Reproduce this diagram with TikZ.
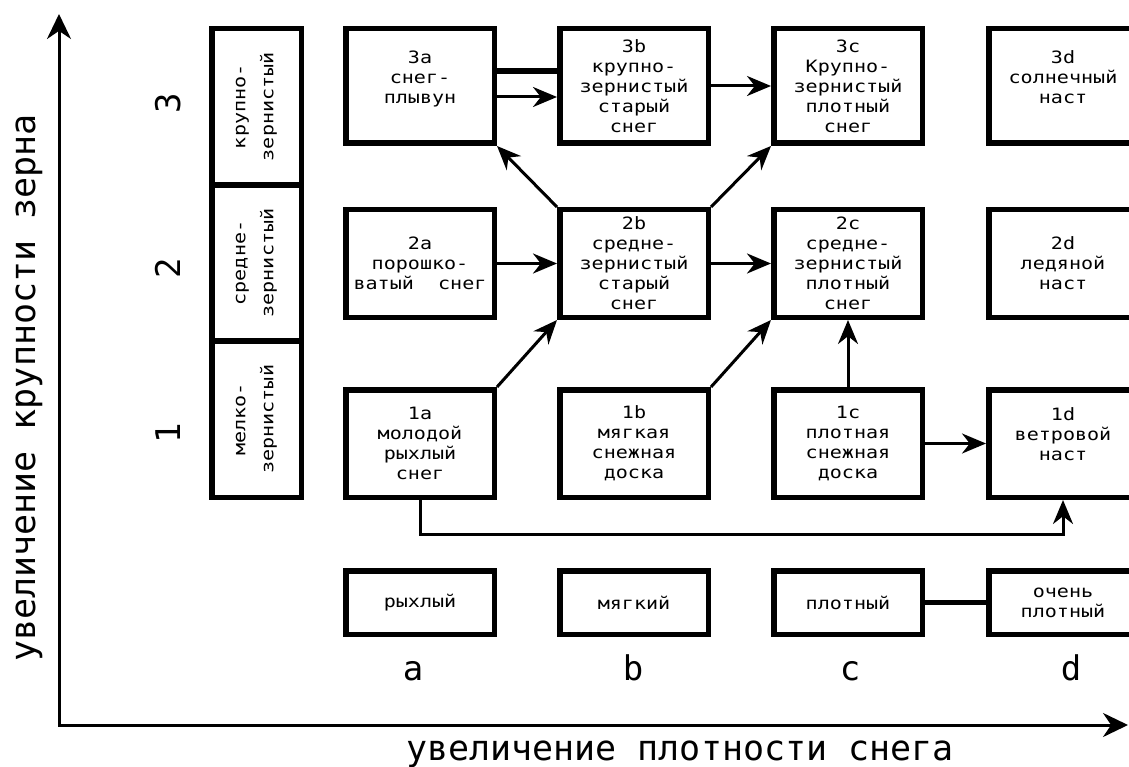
\documentclass[tikz,border=0pt]{standalone}
\usepackage{fontspec}
\setmainfont{DejaVu Sans Mono}
\newfontfamily\boxfont[FakeStretch=1.18]{DejaVu Sans Mono}
\usetikzlibrary{arrows.meta}
\newcommand{\liftup}{\rule[-18pt]{0pt}{1pt}}

\begin{document}
\begin{tikzpicture}[x=1pt,y=-1pt,>={Stealth[length=24pt,width=20pt]},
	cell/.style={draw,rectangle,line width=5.5pt,minimum width=148.5pt,minimum height=107.5pt,align=center,font=\boxfont\fontsize{17}{20}\selectfont},
	grain/.style={draw,rectangle,line width=5.5pt,rotate=90,minimum width=156.2pt,minimum height=89.5pt,align=center,font=\boxfont\fontsize{17}{28}\selectfont},
	conn/.style={line width=3pt,->},
	heavy/.style={line width=5.5pt},
	axis/.style={line width=3pt,{Stealth[length=25pt,width=24pt]}-{Stealth[length=25pt,width=24pt]}},
	big/.style={anchor=base,font=\fontsize{34}{40}\selectfont}]

	\useasboundingbox (0,0) rectangle (1129,767);
	\clip (0,0) rectangle (1129,767);

	% rows of snow types
	\node[cell,minimum height=114.5pt] (A3) at (420,86) {3a\\снег-\\плывун\liftup};
	\node[cell,minimum height=114.5pt] (B3) at (634,86) {3b\\крупно-\\зернистый\\старый\\снег};
	\node[cell,minimum height=114.5pt] (C3) at (848,86) {3c\\Крупно-\\зернистый\\плотный\\снег};
	\node[cell,minimum height=114.5pt] (D3) at (1063,86) {3d\\солнечный\\наст\liftup};

	\node[cell] (A2) at (420,263.5) {2a\\порошко-\\ватый~~снег};
	\node[cell] (B2) at (634,263.5) {2b\\средне-\\зернистый\\старый\\снег};
	\node[cell] (C2) at (848,263.5) {2c\\средне-\\зернистый\\плотный\\снег};
	\node[cell] (D2) at (1063,263.5) {2d\\ледяной\\наст};

	\node[cell] (A1) at (420,443.5) {1a\\молодой\\рыхлый\\снег};
	\node[cell] (B1) at (634,443.5) {1b\\мягкая\\снежная\\доска};
	\node[cell] (C1) at (848,443.5) {1c\\плотная\\снежная\\доска};
	\node[cell] (D1) at (1063,443.5) {1d\\ветровой\\наст\liftup};

	\node[cell,minimum height=63.5pt] (Ab) at (420,602.5) {рыхлый};
	\node[cell,minimum height=63.5pt] (Bb) at (634,602.5) {мягкий};
	\node[cell,minimum height=63.5pt] (Cb) at (848,602.5) {плотный};
	\node[cell,minimum height=63.5pt] (Db) at (1063,602.5) {очень\\плотный};

	% grain column
	\node[grain] (G3) at (256.5,106.8) {крупно-\\зернистый};
	\node[grain] (G2) at (256.5,263) {средне-\\зернистый};
	\node[grain] (G1) at (256.5,419.2) {мелко-\\зернистый};

	\node[big,rotate=90] (N3) at (180,103) {3};
	\node[big,rotate=90] (N2) at (180,268) {2};
	\node[big,rotate=90] (N1) at (180,433) {1};

	\node[big] (La) at (413,680) {a};
	\node[big] (Lb) at (633,680) {b};
	\node[big] (Lc) at (850,680) {c};
	\node[big] (Ld) at (1071,680) {d};

	% axes
	\coordinate (O) at (59,725);
	\coordinate (Ytop) at (59,14);
	\coordinate (Xend) at (1128,725);
	\draw[axis] (Ytop) -- (O) -- (Xend);
	\node[anchor=base,rotate=90,font=\fontsize{35}{40}\selectfont] (Ytitle) at (35,388) {увеличение крупности зерна};
	\node[anchor=base,font=\fontsize{35}{40}\selectfont] (Xtitle) at (680,760) {увеличение плотности снега};

	% transitions
	\draw[heavy] ([yshift=15pt]A3.east) -- ([yshift=15pt]B3.west);
	\draw[conn] ([yshift=-11pt]A3.east) -- ([yshift=-11pt]B3.west);
	\draw[conn] (B3) -- (C3);
	\draw[conn] (B2.north west) -- (A3.south east);
	\draw[conn] (B2.north east) -- (C3.south west);
	\draw[conn] (A2) -- (B2);
	\draw[conn] (B2) -- (C2);
	\draw[conn] (A1.north east) -- (B2.south west);
	\draw[conn] (B1.north east) -- (C2.south west);
	\draw[conn] (C1) -- (C2);
	\draw[conn] (C1) -- (D1);
	\draw[conn] (A1.south) -- ++(0,34) -| (D1.south);
	\draw[heavy] (Cb) -- (Db);

\end{tikzpicture}
\end{document}
